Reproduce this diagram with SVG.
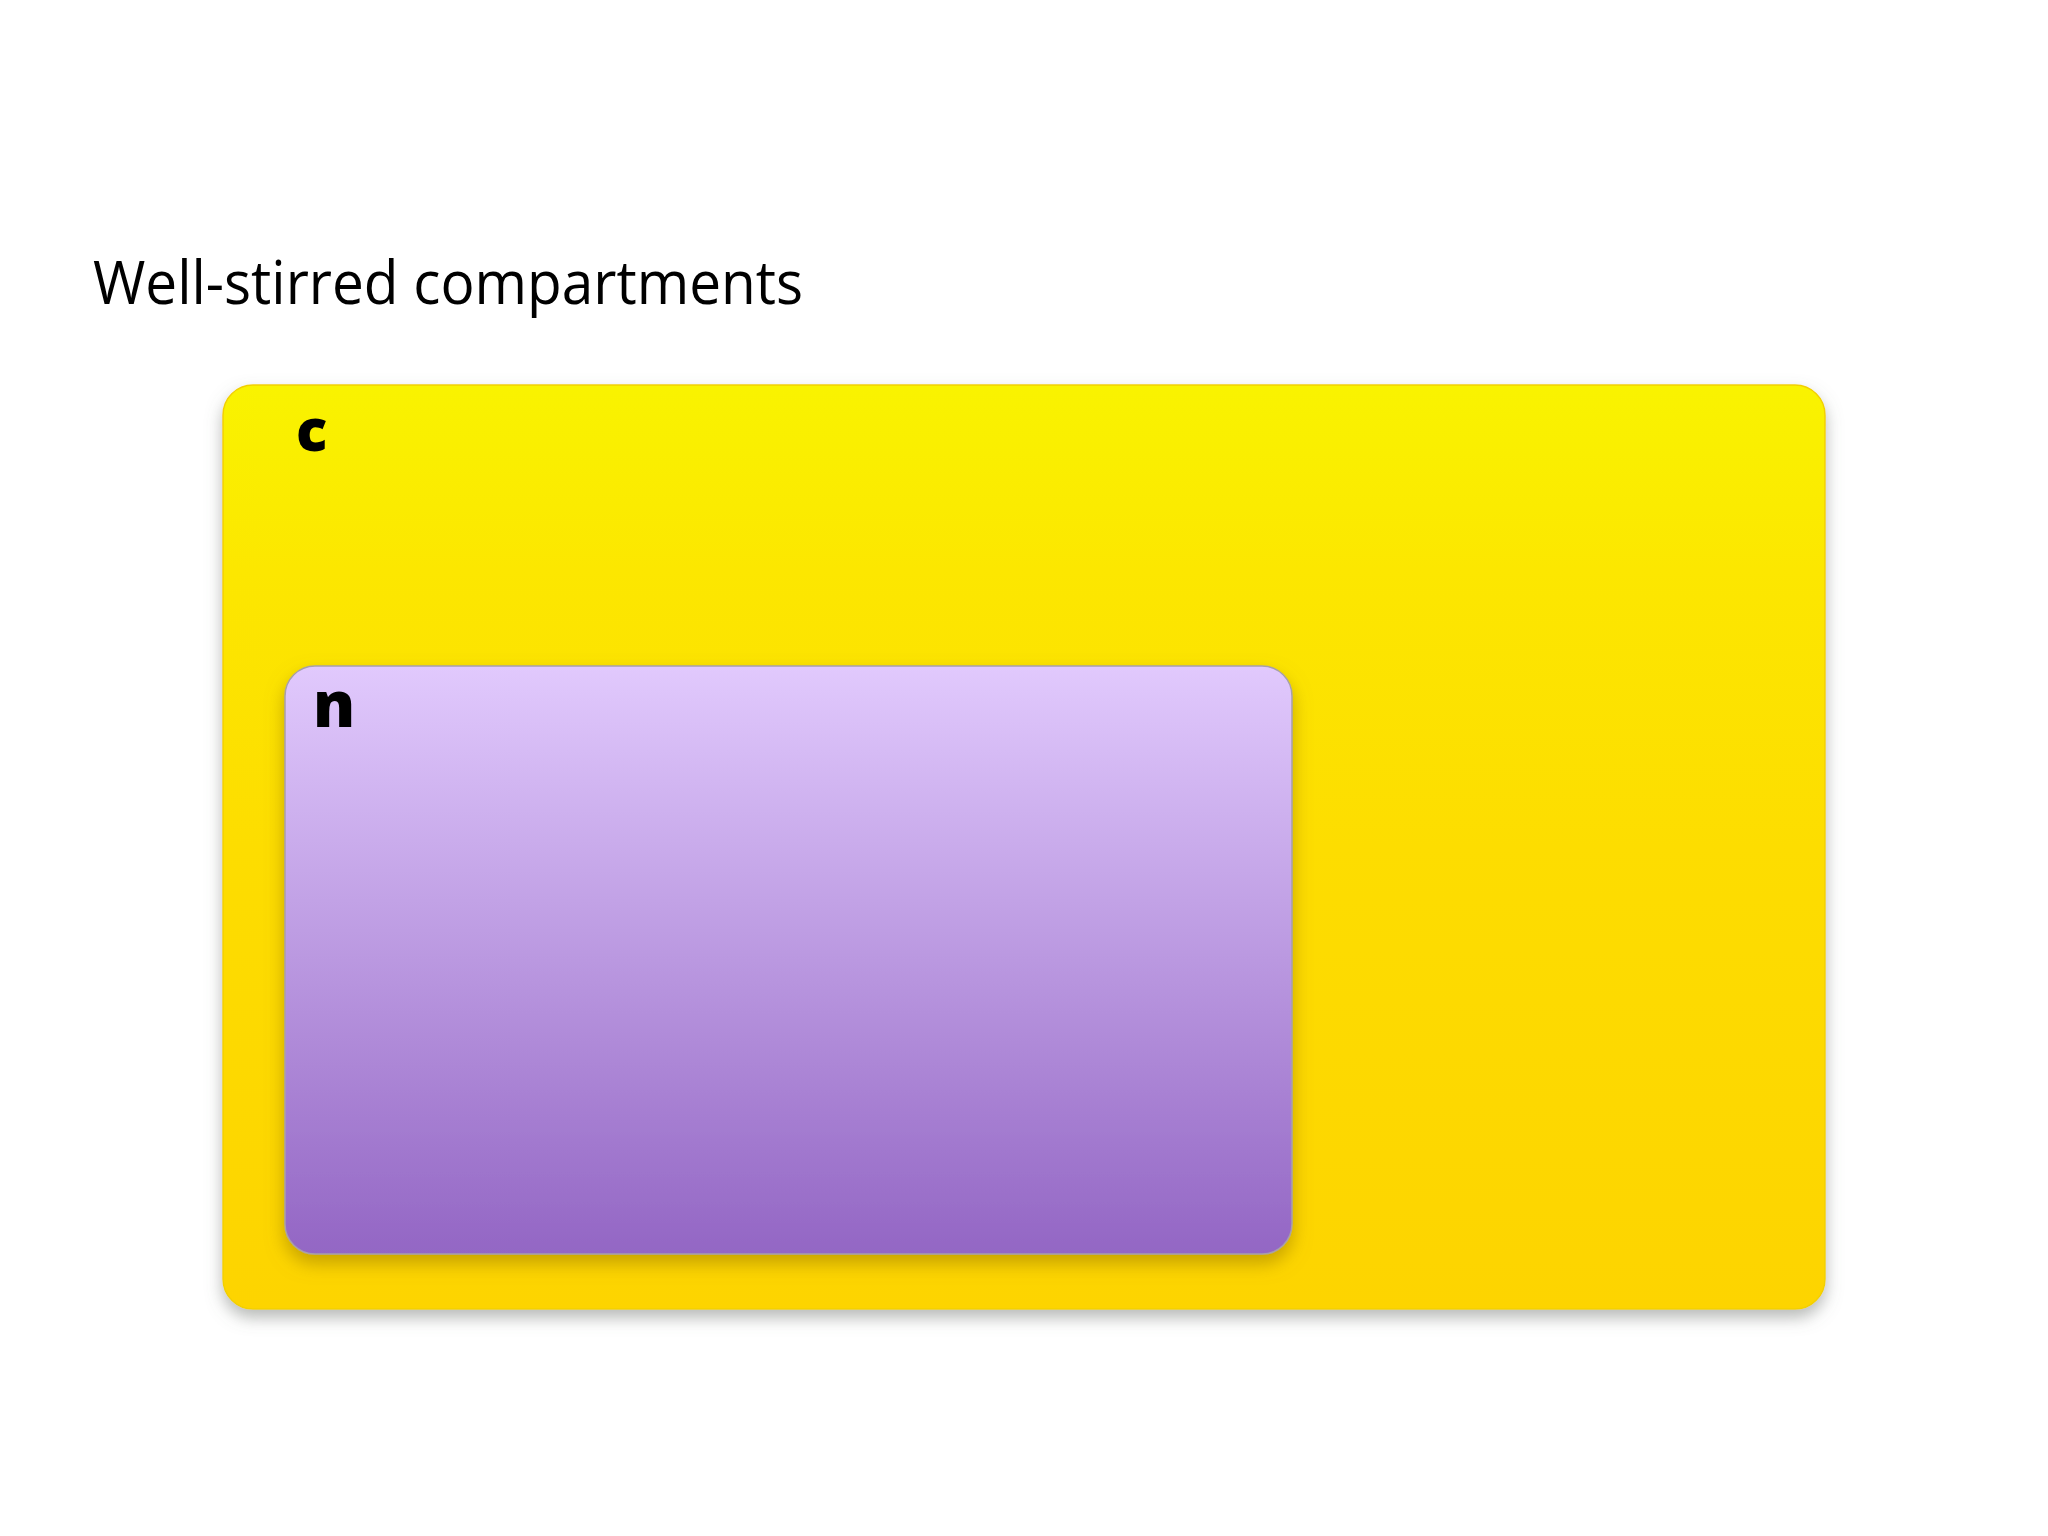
<svg xmlns="http://www.w3.org/2000/svg" width="2048" height="1536" viewBox="0 0 2048 1536">
<defs>
<linearGradient id="gy" x1="0" y1="0" x2="0" y2="1">
<stop offset="0" stop-color="#F9F300"/>
<stop offset="0.2" stop-color="#FCE700"/>
<stop offset="0.5" stop-color="#FDDD00"/>
<stop offset="1" stop-color="#FDD400"/>
</linearGradient>
<linearGradient id="gp" x1="0" y1="0" x2="0" y2="1">
<stop offset="0" stop-color="#E1C9FD"/>
<stop offset="0.45" stop-color="#BE9DE3"/>
<stop offset="1" stop-color="#9366C4"/>
</linearGradient>
<filter id="sh" x="-5%" y="-5%" width="110%" height="115%">
<feDropShadow dx="0" dy="8" stdDeviation="8" flood-color="#6f756f" flood-opacity="0.5"/>
</filter>
<filter id="sh2" x="-5%" y="-5%" width="110%" height="115%">
<feDropShadow dx="0" dy="9" stdDeviation="9" flood-color="#9a7a00" flood-opacity="0.55"/>
</filter>
</defs>
<style>
.lbl{font-family:"Open Sans","Liberation Sans",sans-serif;font-weight:800;fill:#000}
.title{font-family:"Open Sans","Liberation Sans",sans-serif;font-weight:400;fill:#000}
</style>
<rect width="2048" height="1536" fill="#ffffff"/>
<text class="title" x="93" y="304" font-size="60" textLength="710" lengthAdjust="spacingAndGlyphs">Well-stirred compartments</text>
<g id="c">
<rect x="223" y="385" width="1602" height="924" rx="30" ry="30" fill="url(#gy)" filter="url(#sh)" stroke="#F2D000" stroke-width="1.5"/>
<text class="lbl" x="296" y="451" font-size="58">c</text>
</g>
<g id="n">
<rect x="285" y="666" width="1007" height="588" rx="30" ry="30" fill="url(#gp)" filter="url(#sh2)" stroke="#A8A0A8" stroke-width="1.5"/>
<text class="lbl" x="313" y="727" font-size="63">n</text>
</g>
<g id="connectors"/>
</svg>
